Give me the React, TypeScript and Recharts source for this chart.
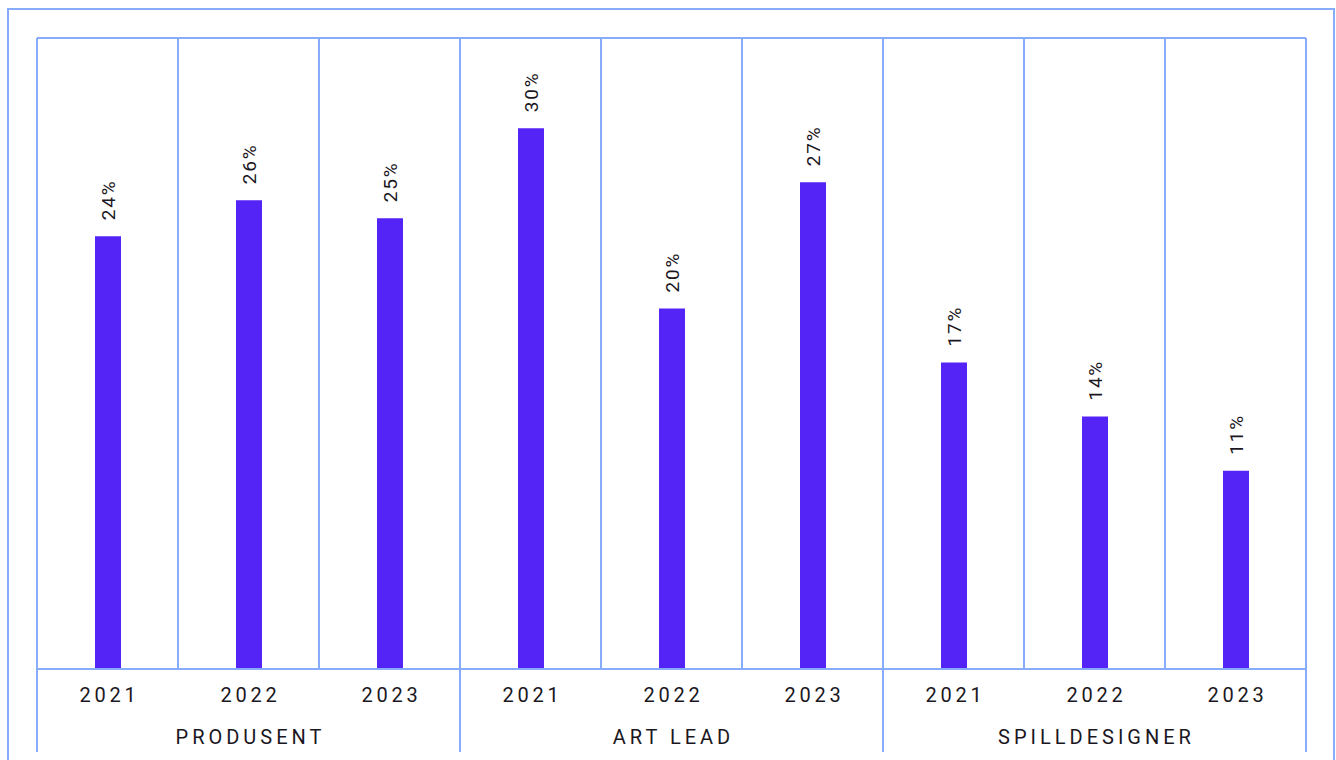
import React from "react";
import { BarChart, Bar, XAxis, YAxis, CartesianGrid, LabelList } from "recharts";

const GROUPS = ["PRODUSENT", "ART LEAD", "SPILLDESIGNER"];
const YEARS = ["2021", "2022", "2023"];
const SHARES = [24, 26, 25, 30, 20, 27, 17, 14, 11];

const BAR_COLOR = "#5423f5";
const LINE_COLOR = "#86acfb";
const TEXT_COLOR = "#1b1722";
const FONT = "Roboto, 'Noto Sans', sans-serif";

const data = SHARES.map((share, i) => ({
  key: `${GROUPS[Math.floor(i / YEARS.length)]}-${YEARS[i % YEARS.length]}`,
  year: YEARS[i % YEARS.length],
  group: GROUPS[Math.floor(i / YEARS.length)],
  share,
}));

function YearTick(props: any) {
  const { x, y, index } = props;
  return (
    <text
      x={x + 2}
      y={y + 31}
      textAnchor="middle"
      fontFamily={FONT}
      fontSize={20}
      letterSpacing={3.7}
      fill={TEXT_COLOR}
    >
      {data[index]?.year}
    </text>
  );
}

function GroupTick(props: any) {
  const { x, y, index, payload } = props;
  const half = payload?.offset || 70.5;
  const per = YEARS.length;
  const top = y - 46;
  const bottom = y + 39;
  return (
    <g>
      {index % per === 0 && (
        <line x1={x - half} x2={x - half} y1={top} y2={bottom} stroke={LINE_COLOR} strokeWidth={2} />
      )}
      {index === data.length - 1 && (
        <line x1={x + half} x2={x + half} y1={top} y2={bottom} stroke={LINE_COLOR} strokeWidth={2} />
      )}
      {index % per === 1 && (
        <text
          x={x + 2}
          y={y + 31}
          textAnchor="middle"
          fontFamily={FONT}
          fontSize={20}
          letterSpacing={4}
          fill={TEXT_COLOR}
        >
          {data[index]?.group}
        </text>
      )}
    </g>
  );
}

function ShareLabel(props: any) {
  const { x, y, width, value } = props;
  const cx = x + width / 2 + 7;
  const cy = y - 16;
  return (
    <text
      x={cx}
      y={cy}
      transform={`rotate(-90 ${cx} ${cy})`}
      textAnchor="start"
      fontFamily={FONT}
      fontSize={19}
      letterSpacing={1.8}
      fill={TEXT_COLOR}
    >
      {`${value}%`}
    </text>
  );
}

export default function App() {
  return (
    <div
      style={{
        position: "fixed",
        left: 0,
        top: 0,
        width: 1336,
        height: 760,
        overflow: "hidden",
        background: "#fff",
      }}
    >
      <div
        style={{
          position: "absolute",
          left: 7,
          top: 8,
          width: 1324,
          height: 800,
          borderTop: `2px solid ${LINE_COLOR}`,
          borderLeft: `2px solid ${LINE_COLOR}`,
          borderRight: `2px solid ${LINE_COLOR}`,
        }}
      />
      <div style={{ position: "absolute", left: 8, top: 8 }}>
        <BarChart
          width={1328}
          height={752}
          data={data}
          margin={{ top: 30, right: 30, bottom: 8, left: 29 }}
          barCategoryGap={0}
        >
          <CartesianGrid
            stroke={LINE_COLOR}
            strokeWidth={2}
            verticalCoordinatesGenerator={({ offset }: any) =>
              Array.from({ length: data.length + 1 }, (_, i) => offset.left + (i * offset.width) / data.length)
            }
            horizontalCoordinatesGenerator={({ offset }: any) => [offset.top]}
          />
          <XAxis
            dataKey="key"
            xAxisId={0}
            height={42}
            interval={0}
            tickLine={false}
            tickSize={0}
            axisLine={{ stroke: LINE_COLOR, strokeWidth: 2 }}
            tick={<YearTick />}
          />
          <XAxis
            dataKey="key"
            xAxisId={1}
            height={41}
            interval={0}
            tickLine={false}
            tickSize={0}
            axisLine={false}
            tick={<GroupTick />}
          />
          <YAxis hide domain={[0, 35]} />
          <Bar dataKey="share" xAxisId={0} fill={BAR_COLOR} barSize={26} isAnimationActive={false}>
            <LabelList dataKey="share" content={<ShareLabel />} />
          </Bar>
        </BarChart>
      </div>
    </div>
  );
}
